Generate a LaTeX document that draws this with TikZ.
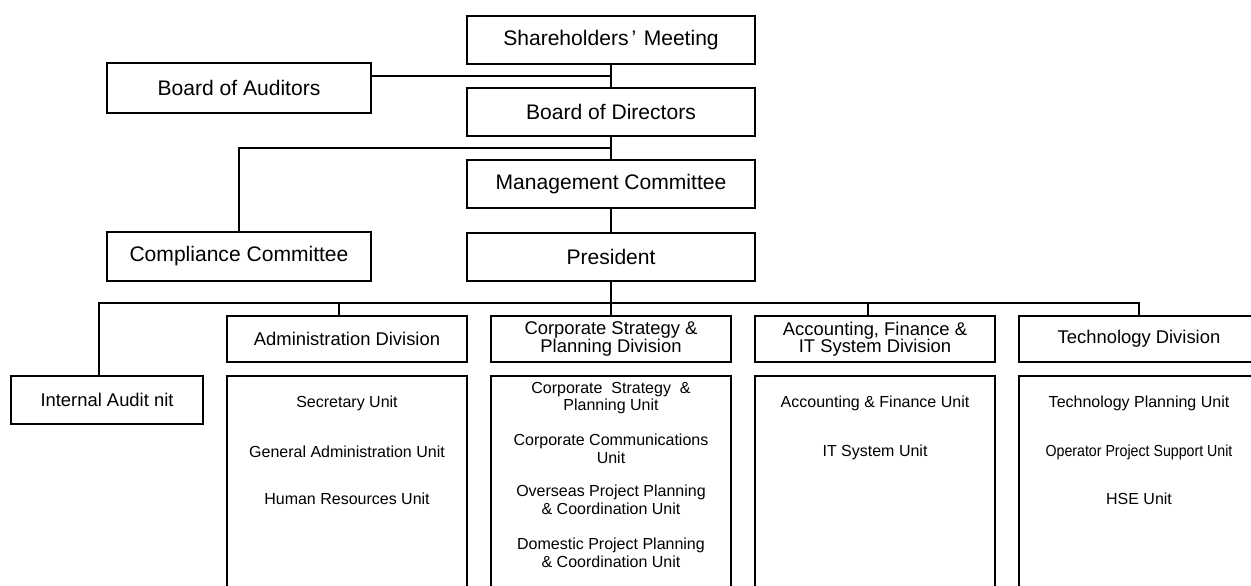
\documentclass[tikz,border=0pt]{standalone}
\usepackage{fontspec}
\setmainfont{Liberation Sans}
\tikzset{every picture/.style={line width=0.75pt}}
\tikzset{
  box/.style={draw, line width=1.5pt, inner sep=0pt, align=center},
  topbox/.style={box, minimum width=216pt, minimum height=36pt, font=\fontsize{15.8}{18}\selectfont},
  sidebox/.style={box, minimum width=198pt, minimum height=37pt, font=\fontsize{15.8}{18}\selectfont},
  divbox/.style={box, minimum width=180pt, minimum height=35pt, font=\fontsize{13.8}{13}\selectfont},
  unitbox/.style={box, minimum width=180pt, minimum height=183pt},
  unit/.style={align=center, inner sep=0pt, font=\fontsize{12}{13.3}\selectfont},
  link/.style={line width=1.5pt},
}

\begin{document}
\begin{tikzpicture}[x=0.75pt,y=0.75pt,yscale=-1,xscale=1]
\useasboundingbox (0,0) rectangle (1251,585);

%Shape: Rectangle - upper part
\node[topbox] (share) at (611,40) {Shareholders\hspace{0.15em}’\hspace{0.35em}Meeting};
\node[sidebox] (auditors) at (239,88) {Board of Auditors};
\node[topbox] (directors) at (611,112) {Board of Directors};
\node[topbox] (mgmt) at (611,184) {Management Committee};
\node[sidebox] (compliance) at (239,256.5) {Compliance Committee};
\node[topbox] (president) at (611,256.5) {President};

%Shape: Rectangle - divisions
\node[box, minimum width=144pt, minimum height=36pt, font=\fontsize{13.8}{16}\selectfont] (audit) at (107,400) {Internal Audit nit};
\node[divbox] (admdiv) at (347,339) {Administration Division};
\node[divbox] (csdiv) at (611,339) {Corporate Strategy \&\\Planning Division};
\node[divbox] (afdiv) at (875,339) {Accounting, Finance \&\\IT System Division};
\node[divbox] (techdiv) at (1139,339) {Technology Division};

%Shape: Rectangle - unit boxes
\node[unitbox] (admunits) at (347,498) {};
\node[unitbox] (csunits) at (611,498) {};
\node[unitbox] (afunits) at (875,498) {};
\node[unitbox] (techunits) at (1139,498) {};

%Junctions
\coordinate (audj) at (611,76);
\coordinate (compj) at (611,148);
\coordinate (bus) at (611,303);

%Straight Lines
\draw[link] (share) -- (directors);
\draw[link] (audj) -- (audj -| auditors.east);
\draw[link] (directors) -- (mgmt);
\draw[link] (compj) -| (compliance.north);
\draw[link] (mgmt) -- (president);
\draw[link] (president) -- (csdiv);
\draw[link] ([xshift=-6pt]audit.north) |- (bus) -| (techdiv.north);
\draw[link] ([xshift=-6pt]admdiv.north) -- ([xshift=-6pt]admdiv.north |- bus);
\draw[link] ([xshift=-5.5pt]afdiv.north) -- ([xshift=-5.5pt]afdiv.north |- bus);

%Text Node - units
\node[unit] (secunit) at (347,403) {Secretary Unit};
\node[unit] (genunit) at (347,452) {General Administration Unit};
\node[unit] (hrunit) at (347,499) {Human Resources Unit};

\node[unit] (csunit) at (611,398) {Corporate\ \ Strategy\ \ \&\\Planning Unit};
\node[unit] (ccunit) at (611,448.5) {Corporate Communications\\Unit};
\node[unit] (opunit) at (611,499.5) {Overseas Project Planning\\\& Coordination Unit};
\node[unit] (dpunit) at (611,552.5) {Domestic Project Planning\\\& Coordination Unit};

\node[unit] (afunit) at (875,403) {Accounting \& Finance Unit};
\node[unit] (itunit) at (875,452) {IT System Unit};

\node[unit] (tpunit) at (1139,403) {Technology Planning Unit};
\node[unit] (opsunit) at (1139,452) {\scalebox{0.886}[1]{Operator Project Support Unit}};
\node[unit] (hseunit) at (1139,499) {HSE Unit};

\end{tikzpicture}
\end{document}
